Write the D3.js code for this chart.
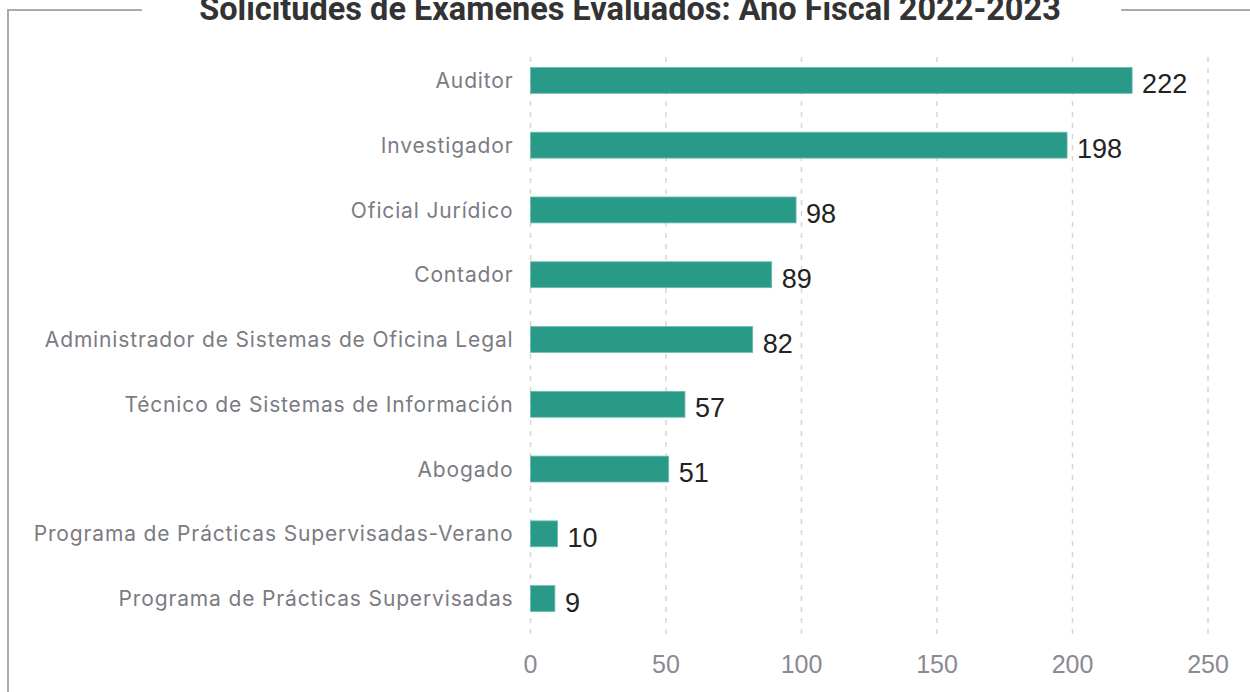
<!DOCTYPE html>
<html>
<head>
<meta charset="utf-8">
<script src="https://cdn.jsdelivr.net/npm/d3@7"></script>
<style>
  body { margin: 0; background: #fff; }
  svg { display: block; }
</style>
</head>
<body>
<svg id="chart" width="1250" height="692"></svg>
<script>
// values
const categories = [
  'Auditor',
  'Investigador',
  'Oficial Jurídico',
  'Contador',
  'Administrador de Sistemas de Oficina Legal',
  'Técnico de Sistemas de Información',
  'Abogado',
  'Programa de Prácticas Supervisadas-Verano',
  'Programa de Prácticas Supervisadas'
];
const values = [222, 198, 98, 89, 82, 57, 51, 10, 9];
const xTicks = [0, 50, 100, 150, 200, 250];
const title = 'Solicitudes de Exámenes Evaluados: Año Fiscal 2022-2023';

const W = 1250, H = 692;
const margin = { top: 48, left: 530.5, right: 42, bottom: 60 };

const svg = d3.select('#chart');

// frame lines around the title
const frame = svg.append('g').attr('stroke', '#aaaaae').attr('stroke-width', 2).attr('fill', 'none');
frame.append('path').attr('d', 'M8,' + H + 'V10H142');
frame.append('path').attr('d', 'M1121,10H' + W);

svg.append('text')
  .attr('x', 630)
  .attr('y', 20)
  .attr('text-anchor', 'middle')
  .attr('font-family', 'Roboto')
  .attr('font-weight', 'bold')
  .attr('font-size', 32.5)
  .attr('fill', '#333')
  .text(title);

let x = d3.scaleLinear().domain([0, 250]).range([margin.left, 1208]);
let y = d3.scaleBand().domain(categories).range([margin.top, 631]).paddingInner(0.6).paddingOuter(0.3);

// dashed grid
svg.append('g')
  .selectAll('line')
  .data(xTicks)
  .join('line')
  .attr('x1', (d) => x(d)).attr('x2', (d) => x(d))
  .attr('y1', 57).attr('y2', 634)
  .attr('stroke', '#d6d6d6')
  .attr('stroke-width', 1.5)
  .attr('stroke-dasharray', '5,6');

let rows = svg.append('g')
  .selectAll('g')
  .data(categories)
  .join('g');

rows.append('rect')
  .attr('x', x(0))
  .attr('y', (d) => y(d))
  .attr('width', (d, i) => x(values[i]) - x(0))
  .attr('height', y.bandwidth())
  .attr('fill', '#2a9a88')
  .attr('stroke', '#6dbdaf')
  .attr('stroke-width', 0.8);

rows.append('text')
  .attr('x', margin.left - 17)
  .attr('y', (d) => y(d) + y.bandwidth() / 2)
  .attr('dy', '0.36em')
  .attr('text-anchor', 'end')
  .attr('font-family', 'Inter')
  .attr('font-size', 21)
  .attr('letter-spacing', 0.85)
  .attr('fill', '#7b7b82')
  .text((d) => d);

rows.append('text')
  .attr('x', (d, i) => x(values[i]) + 10)
  .attr('y', (d) => y(d) + y.bandwidth() / 2 + 13)
  .attr('font-family', 'Liberation Sans')
  .attr('font-size', 27)
  .attr('fill', '#222')
  .text((d, i) => values[i]);

// bottom tick labels
svg.append('g')
  .selectAll('text')
  .data(xTicks)
  .join('text')
  .attr('x', (d) => x(d))
  .attr('y', 673)
  .attr('text-anchor', 'middle')
  .attr('font-family', 'Liberation Sans')
  .attr('font-size', 25)
  .attr('fill', '#8a8a90')
  .text((d) => d);
</script>
</body>
</html>
